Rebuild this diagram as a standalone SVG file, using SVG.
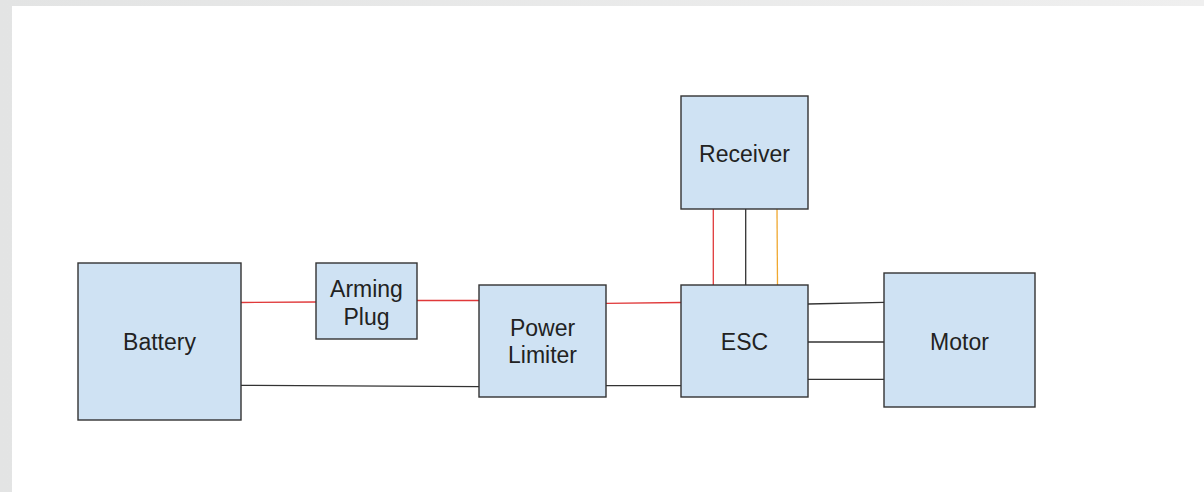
<svg xmlns="http://www.w3.org/2000/svg" width="1204" height="492" viewBox="0 0 1204 492">
<defs>
<linearGradient id="frame" x1="0" y1="0" x2="1" y2="0">
<stop offset="0" stop-color="#e3e4e4"/>
<stop offset="1" stop-color="#efefef"/>
</linearGradient>
</defs>
<style>
.box{fill:#cfe2f3;stroke:#333;stroke-width:1.4}
.lbl{font-family:"Liberation Sans",Arial,sans-serif;font-size:23px;fill:#222;text-anchor:middle}
.w{fill:none;stroke-width:1.3}
.red{stroke:#e0393a}
.blk{stroke:#333}
.org{stroke:#f0a830}
</style>
<rect x="0" y="0" width="1204" height="492" fill="url(#frame)"/>
<rect x="12" y="6" width="1192" height="486" fill="#ffffff"/>
<g id="connectors">
<line class="w red" x1="241" y1="302.5" x2="316" y2="302"/>
<line class="w red" x1="417" y1="300.5" x2="479" y2="300.5"/>
<line class="w blk" x1="241" y1="385.3" x2="479" y2="386.7"/>
<line class="w red" x1="606" y1="303.3" x2="681" y2="302.5"/>
<line class="w blk" x1="606" y1="385.7" x2="681" y2="385.7"/>
<line class="w red" x1="713.3" y1="209" x2="713.3" y2="285"/>
<line class="w blk" x1="745.7" y1="209" x2="745.7" y2="285"/>
<line class="w org" x1="777" y1="209" x2="777.5" y2="285"/>
<line class="w blk" x1="808" y1="304" x2="884" y2="302.3"/>
<line class="w blk" x1="808" y1="342" x2="884" y2="342"/>
<line class="w blk" x1="808" y1="379.3" x2="884" y2="379.3"/>
</g>
<g id="battery">
<rect class="box" x="78" y="263" width="163" height="157"/>
<text class="lbl" x="159.5" y="350">Battery</text>
</g>
<g id="arming-plug">
<rect class="box" x="316" y="263" width="101" height="76"/>
<text class="lbl" x="366.5" y="297">Arming</text>
<text class="lbl" x="366.5" y="324.5">Plug</text>
</g>
<g id="power-limiter">
<rect class="box" x="479" y="285" width="127" height="112"/>
<text class="lbl" x="542.5" y="335.5">Power</text>
<text class="lbl" x="542.5" y="362.5">Limiter</text>
</g>
<g id="receiver">
<rect class="box" x="681" y="96" width="127" height="113"/>
<text class="lbl" x="744.5" y="161.5">Receiver</text>
</g>
<g id="esc">
<rect class="box" x="681" y="285" width="127" height="112"/>
<text class="lbl" x="744.5" y="349.5">ESC</text>
</g>
<g id="motor">
<rect class="box" x="884" y="273" width="151" height="134"/>
<text class="lbl" x="959.5" y="349.5">Motor</text>
</g>
</svg>
